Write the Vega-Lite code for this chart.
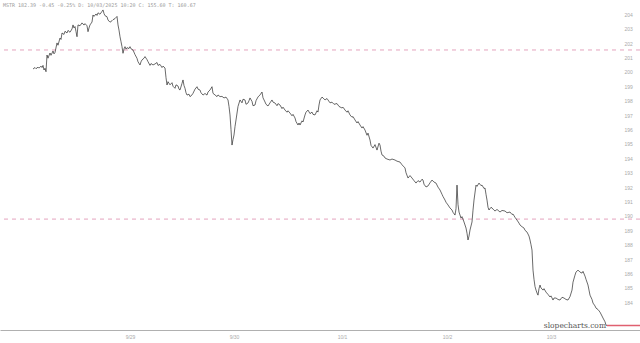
{
  "$schema": "https://vega.github.io/schema/vega-lite/v6.json",
  "width": 640,
  "height": 330,
  "autosize": {"type": "none"},
  "padding": {"left": 0, "top": 0, "right": 0, "bottom": 13},
  "background": "white",
  "title": {
    "text": "MSTR  182.39  -0.45  -0.25%  D: 10/03/2025 10:20  C: 155.60  T: 160.67",
    "anchor": "start",
    "frame": "group",
    "orient": "top",
    "offset": -8,
    "dx": 3,
    "fontSize": 5,
    "fontWeight": "normal",
    "font": "DejaVu Sans Mono",
    "color": "#999999"
  },
  "config": {"view": {"stroke": null}},
  "datasets": {
    "series": [
      {"i": 0, "p": 200.20}, {"i": 2, "p": 200.30}, {"i": 3, "p": 200.22}, {"i": 5, "p": 200.33}, {"i": 6, "p": 200.26}, {"i": 8, "p": 200.40}, {"i": 9, "p": 200.30},
      {"i": 10, "p": 200.45}, {"i": 11, "p": 200.13}, {"i": 12, "p": 200.25}, {"i": 13, "p": 200.01}, {"i": 14, "p": 201.17}, {"i": 15, "p": 200.95}, {"i": 17, "p": 201.31},
      {"i": 18, "p": 201.15}, {"i": 20, "p": 201.45}, {"i": 21, "p": 201.25}, {"i": 22, "p": 201.35}, {"i": 24, "p": 202.01}, {"i": 25, "p": 201.85}, {"i": 27, "p": 202.35},
      {"i": 28, "p": 202.25}, {"i": 29, "p": 202.70}, {"i": 31, "p": 202.60}, {"i": 32, "p": 202.82}, {"i": 34, "p": 202.70}, {"i": 35, "p": 202.88}, {"i": 37, "p": 202.75},
      {"i": 39, "p": 202.98}, {"i": 40, "p": 203.26}, {"i": 41, "p": 203.05}, {"i": 42, "p": 203.15}, {"i": 43, "p": 202.80}, {"i": 44, "p": 202.44},
      {"i": 45, "p": 203.26}, {"i": 47, "p": 203.20}, {"i": 49, "p": 203.40}, {"i": 51, "p": 203.25}, {"i": 52, "p": 203.35}, {"i": 54, "p": 203.20},
      {"i": 55, "p": 202.79}, {"i": 56, "p": 203.05}, {"i": 57, "p": 203.26}, {"i": 59, "p": 203.46}, {"i": 60, "p": 203.95}, {"i": 61, "p": 203.85},
      {"i": 63, "p": 204.02}, {"i": 64, "p": 203.92}, {"i": 65, "p": 204.10}, {"i": 67, "p": 204.00}, {"i": 69, "p": 204.20}, {"i": 70, "p": 204.30},
      {"i": 71, "p": 204.05}, {"i": 72, "p": 203.90}, {"i": 74, "p": 203.83}, {"i": 75, "p": 203.60}, {"i": 77, "p": 203.45}, {"i": 79, "p": 203.55}, {"i": 80, "p": 203.62},
      {"i": 82, "p": 203.70}, {"i": 84, "p": 203.85}, {"i": 85, "p": 203.26}, {"i": 86, "p": 202.90}, {"i": 87, "p": 202.44}, {"i": 88, "p": 202.10}, {"i": 89, "p": 201.75},
      {"i": 90, "p": 201.29}, {"i": 91, "p": 201.60}, {"i": 92, "p": 201.75}, {"i": 93, "p": 201.58}, {"i": 94, "p": 201.68}, {"i": 96, "p": 201.62}, {"i": 97, "p": 201.75},
      {"i": 98, "p": 201.60}, {"i": 100, "p": 201.52}, {"i": 102, "p": 201.20}, {"i": 104, "p": 200.94}, {"i": 105, "p": 200.70}, {"i": 107, "p": 200.48}, {"i": 108, "p": 200.70}, {"i": 109, "p": 200.83},
      {"i": 111, "p": 200.95}, {"i": 112, "p": 201.06}, {"i": 114, "p": 200.85}, {"i": 115, "p": 200.71}, {"i": 117, "p": 200.45}, {"i": 118, "p": 200.58}, {"i": 120, "p": 200.48},
      {"i": 122, "p": 200.55}, {"i": 124, "p": 200.65}, {"i": 125, "p": 200.45}, {"i": 127, "p": 200.52}, {"i": 129, "p": 200.30}, {"i": 130, "p": 200.40}, {"i": 132, "p": 200.27},
      {"i": 133, "p": 199.60}, {"i": 134, "p": 199.09}, {"i": 135, "p": 199.32}, {"i": 137, "p": 199.10}, {"i": 139, "p": 199.25}, {"i": 140, "p": 199.00}, {"i": 142, "p": 198.86},
      {"i": 143, "p": 199.10}, {"i": 145, "p": 199.02}, {"i": 146, "p": 198.80}, {"i": 147, "p": 198.74}, {"i": 149, "p": 199.20}, {"i": 150, "p": 199.44}, {"i": 151, "p": 199.05}, {"i": 152, "p": 198.86},
      {"i": 153, "p": 198.55}, {"i": 154, "p": 198.39}, {"i": 156, "p": 198.45}, {"i": 157, "p": 198.28}, {"i": 159, "p": 198.40}, {"i": 160, "p": 198.51}, {"i": 162, "p": 198.80}, {"i": 164, "p": 198.97},
      {"i": 165, "p": 198.80}, {"i": 167, "p": 198.74}, {"i": 168, "p": 198.55}, {"i": 170, "p": 198.39}, {"i": 172, "p": 198.50}, {"i": 174, "p": 198.39}, {"i": 175, "p": 198.60}, {"i": 177, "p": 198.74},
      {"i": 179, "p": 198.97}, {"i": 180, "p": 198.51}, {"i": 182, "p": 198.40}, {"i": 184, "p": 198.28}, {"i": 185, "p": 198.40}, {"i": 187, "p": 198.28},
      {"i": 189, "p": 198.30}, {"i": 191, "p": 198.19}, {"i": 193, "p": 198.25}, {"i": 195, "p": 198.05}, {"i": 196, "p": 197.60}, {"i": 197, "p": 197.01}, {"i": 198, "p": 196.00}, {"i": 199, "p": 194.92},
      {"i": 200, "p": 195.30}, {"i": 201, "p": 195.62}, {"i": 202, "p": 196.20}, {"i": 203, "p": 196.66}, {"i": 205, "p": 197.60}, {"i": 207, "p": 198.05}, {"i": 209, "p": 197.85}, {"i": 210, "p": 198.10}, {"i": 212, "p": 198.05},
      {"i": 213, "p": 197.75}, {"i": 215, "p": 197.84}, {"i": 216, "p": 198.00}, {"i": 217, "p": 198.19}, {"i": 219, "p": 197.95}, {"i": 220, "p": 197.65}, {"i": 222, "p": 197.70}, {"i": 223, "p": 198.00}, {"i": 225, "p": 198.26},
      {"i": 227, "p": 198.40}, {"i": 229, "p": 198.60}, {"i": 230, "p": 198.20}, {"i": 232, "p": 197.91}, {"i": 233, "p": 197.75}, {"i": 235, "p": 197.63}, {"i": 237, "p": 197.85}, {"i": 239, "p": 198.05},
      {"i": 240, "p": 197.90}, {"i": 242, "p": 197.84}, {"i": 244, "p": 197.65}, {"i": 245, "p": 197.80}, {"i": 247, "p": 197.70}, {"i": 249, "p": 197.45}, {"i": 250, "p": 197.55}, {"i": 252, "p": 197.35},
      {"i": 254, "p": 197.20}, {"i": 255, "p": 197.30}, {"i": 257, "p": 197.14}, {"i": 259, "p": 196.95}, {"i": 260, "p": 197.05}, {"i": 262, "p": 196.80}, {"i": 263, "p": 196.55}, {"i": 265, "p": 196.31},
      {"i": 266, "p": 196.45}, {"i": 267, "p": 196.31}, {"i": 269, "p": 196.60}, {"i": 270, "p": 196.52}, {"i": 272, "p": 197.01}, {"i": 273, "p": 197.20}, {"i": 275, "p": 197.35}, {"i": 277, "p": 197.10},
      {"i": 279, "p": 197.21}, {"i": 280, "p": 197.05}, {"i": 282, "p": 197.01}, {"i": 284, "p": 197.30}, {"i": 285, "p": 197.21}, {"i": 286, "p": 197.70}, {"i": 287, "p": 198.05}, {"i": 289, "p": 198.25},
      {"i": 290, "p": 198.19}, {"i": 292, "p": 198.05}, {"i": 294, "p": 198.15}, {"i": 295, "p": 198.05}, {"i": 297, "p": 197.85}, {"i": 299, "p": 197.90}, {"i": 301, "p": 197.75}, {"i": 304, "p": 197.80},
      {"i": 306, "p": 197.60}, {"i": 309, "p": 197.49}, {"i": 310, "p": 197.55}, {"i": 312, "p": 197.35}, {"i": 314, "p": 197.20}, {"i": 315, "p": 197.30}, {"i": 317, "p": 197.01}, {"i": 319, "p": 196.85},
      {"i": 320, "p": 196.90}, {"i": 322, "p": 196.66}, {"i": 324, "p": 196.45}, {"i": 325, "p": 196.55}, {"i": 327, "p": 196.31}, {"i": 329, "p": 196.10}, {"i": 330, "p": 196.20}, {"i": 332, "p": 195.96},
      {"i": 334, "p": 195.60}, {"i": 335, "p": 195.75}, {"i": 337, "p": 195.27}, {"i": 338, "p": 194.90}, {"i": 340, "p": 194.71}, {"i": 342, "p": 194.95}, {"i": 344, "p": 194.57}, {"i": 346, "p": 195.05},
      {"i": 347, "p": 194.92}, {"i": 348, "p": 194.50}, {"i": 349, "p": 194.23}, {"i": 351, "p": 194.15}, {"i": 352, "p": 194.02}, {"i": 354, "p": 193.95}, {"i": 357, "p": 193.88}, {"i": 359, "p": 193.95},
      {"i": 362, "p": 193.88}, {"i": 364, "p": 193.80}, {"i": 367, "p": 193.74}, {"i": 369, "p": 193.55}, {"i": 372, "p": 193.33}, {"i": 373, "p": 193.00}, {"i": 375, "p": 192.63}, {"i": 377, "p": 192.80},
      {"i": 379, "p": 192.63}, {"i": 381, "p": 192.45}, {"i": 383, "p": 192.28}, {"i": 385, "p": 192.45}, {"i": 387, "p": 192.35}, {"i": 389, "p": 192.55}, {"i": 390, "p": 192.49}, {"i": 391, "p": 192.20}, {"i": 393, "p": 192.01},
      {"i": 395, "p": 192.08}, {"i": 397, "p": 192.30}, {"i": 399, "p": 192.49}, {"i": 401, "p": 192.35}, {"i": 403, "p": 192.28}, {"i": 405, "p": 192.00}, {"i": 407, "p": 191.80}, {"i": 409, "p": 191.50},
      {"i": 410, "p": 191.35}, {"i": 412, "p": 191.10}, {"i": 413, "p": 190.95}, {"i": 415, "p": 190.76}, {"i": 417, "p": 190.55}, {"i": 419, "p": 190.41}, {"i": 420, "p": 190.25}, {"i": 422, "p": 190.06},
      {"i": 423, "p": 190.50}, {"i": 424, "p": 192.14}, {"i": 425, "p": 190.80}, {"i": 426, "p": 190.27}, {"i": 428, "p": 189.85}, {"i": 429, "p": 189.95}, {"i": 431, "p": 189.58}, {"i": 433, "p": 189.16},
      {"i": 434, "p": 188.80}, {"i": 435, "p": 188.33}, {"i": 436, "p": 188.60}, {"i": 437, "p": 189.02}, {"i": 439, "p": 189.58}, {"i": 440, "p": 190.40}, {"i": 441, "p": 191.10}, {"i": 443, "p": 192.14},
      {"i": 444, "p": 192.05}, {"i": 446, "p": 192.28}, {"i": 448, "p": 192.10}, {"i": 449, "p": 192.14}, {"i": 451, "p": 191.90}, {"i": 452, "p": 191.94}, {"i": 453, "p": 191.50}, {"i": 454, "p": 191.10},
      {"i": 455, "p": 190.60}, {"i": 456, "p": 190.41}, {"i": 458, "p": 190.60}, {"i": 459, "p": 190.55}, {"i": 461, "p": 190.40}, {"i": 462, "p": 190.34}, {"i": 464, "p": 190.45}, {"i": 467, "p": 190.27},
      {"i": 469, "p": 190.38}, {"i": 472, "p": 190.34}, {"i": 474, "p": 190.22}, {"i": 477, "p": 190.27}, {"i": 479, "p": 190.10}, {"i": 480, "p": 190.13}, {"i": 482, "p": 189.90}, {"i": 484, "p": 189.71},
      {"i": 486, "p": 189.50}, {"i": 487, "p": 189.37}, {"i": 489, "p": 189.25}, {"i": 491, "p": 189.16}, {"i": 492, "p": 189.00}, {"i": 494, "p": 188.88}, {"i": 496, "p": 188.60}, {"i": 497, "p": 188.33},
      {"i": 498, "p": 188.00}, {"i": 499, "p": 187.63}, {"i": 500, "p": 186.24}, {"i": 501, "p": 185.60}, {"i": 502, "p": 185.10}, {"i": 503, "p": 184.85}, {"i": 504, "p": 184.65}, {"i": 505, "p": 184.50},
      {"i": 506, "p": 184.95}, {"i": 507, "p": 185.20}, {"i": 508, "p": 185.00}, {"i": 510, "p": 184.85}, {"i": 511, "p": 184.95}, {"i": 513, "p": 184.71}, {"i": 515, "p": 184.55}, {"i": 517, "p": 184.37},
      {"i": 518, "p": 184.45}, {"i": 520, "p": 184.16}, {"i": 521, "p": 184.30}, {"i": 523, "p": 184.30}, {"i": 525, "p": 184.20}, {"i": 527, "p": 184.16}, {"i": 529, "p": 184.35}, {"i": 531, "p": 184.30},
      {"i": 533, "p": 184.20}, {"i": 535, "p": 184.16}, {"i": 537, "p": 184.40}, {"i": 539, "p": 184.85}, {"i": 540, "p": 185.40}, {"i": 542, "p": 185.89}, {"i": 543, "p": 186.10}, {"i": 545, "p": 186.24},
      {"i": 547, "p": 186.10}, {"i": 549, "p": 186.03}, {"i": 550, "p": 186.15}, {"i": 552, "p": 185.82}, {"i": 553, "p": 185.60}, {"i": 555, "p": 185.20}, {"i": 556, "p": 184.85}, {"i": 557, "p": 184.50},
      {"i": 559, "p": 184.20}, {"i": 560, "p": 183.95}, {"i": 562, "p": 183.75}, {"i": 563, "p": 183.60}, {"i": 565, "p": 183.50}, {"i": 567, "p": 183.32}, {"i": 569, "p": 183.05}, {"i": 570, "p": 182.91},
      {"i": 572, "p": 182.65}, {"i": 573, "p": 182.42}, {"i": 574, "p": 182.39}
    ],
    "levels": [{"level": 201.52}, {"level": 189.78}],
    "last": [{"i": 574, "i2": 607, "p": 182.39, "site": "slopecharts.com"}]
  },
  "encoding": {
    "x": {
      "field": "i",
      "type": "quantitative",
      "scale": {"domain": [-33, 607], "nice": false, "zero": false},
      "axis": {
        "title": null,
        "values": [97, 201, 309, 414, 518],
        "labelExpr": "datum.value == 97 ? '9/29' : datum.value == 201 ? '9/30' : datum.value == 309 ? '10/1' : datum.value == 414 ? '10/2' : '10/3'",
        "grid": false,
        "ticks": false,
        "domainColor": "#b0b0b0",
        "domainWidth": 1.2,
        "labelFontSize": 5,
        "labelColor": "#aaaaaa",
        "labelPadding": 4
      }
    },
    "y": {
      "field": "p",
      "type": "quantitative",
      "scale": {"domain": [182.08, 204.99], "nice": false, "zero": false},
      "axis": {
        "orient": "right",
        "offset": -19,
        "title": null,
        "values": [184, 185, 186, 187, 188, 189, 190, 191, 192, 193, 194, 195, 196, 197, 198, 199, 200, 201, 202, 203, 204],
        "format": "d",
        "grid": false,
        "ticks": false,
        "domain": false,
        "labelFontSize": 5,
        "labelColor": "#aaaaaa",
        "labelPadding": 3
      }
    }
  },
  "layer": [
    {
      "data": {"name": "levels"},
      "mark": {"type": "rule", "color": "#e4a3bd", "strokeDash": [4, 4], "strokeWidth": 1},
      "encoding": {"y": {"field": "level", "type": "quantitative"}, "x": null}
    },
    {
      "data": {"name": "series"},
      "mark": {"type": "line", "color": "#2a2a2a", "strokeWidth": 0.7, "interpolate": "linear"}
    },
    {
      "data": {"name": "last"},
      "mark": {"type": "rule", "color": "#e06070", "strokeWidth": 1.5},
      "encoding": {"x2": {"field": "i2"}}
    },
    {
      "data": {"name": "last"},
      "mark": {"type": "text", "align": "right", "baseline": "bottom", "fontSize": 7.5, "color": "#555555", "font": "DejaVu Serif", "dy": 4, "dx": -1},
      "encoding": {"text": {"field": "site"}}
    }
  ]
}
